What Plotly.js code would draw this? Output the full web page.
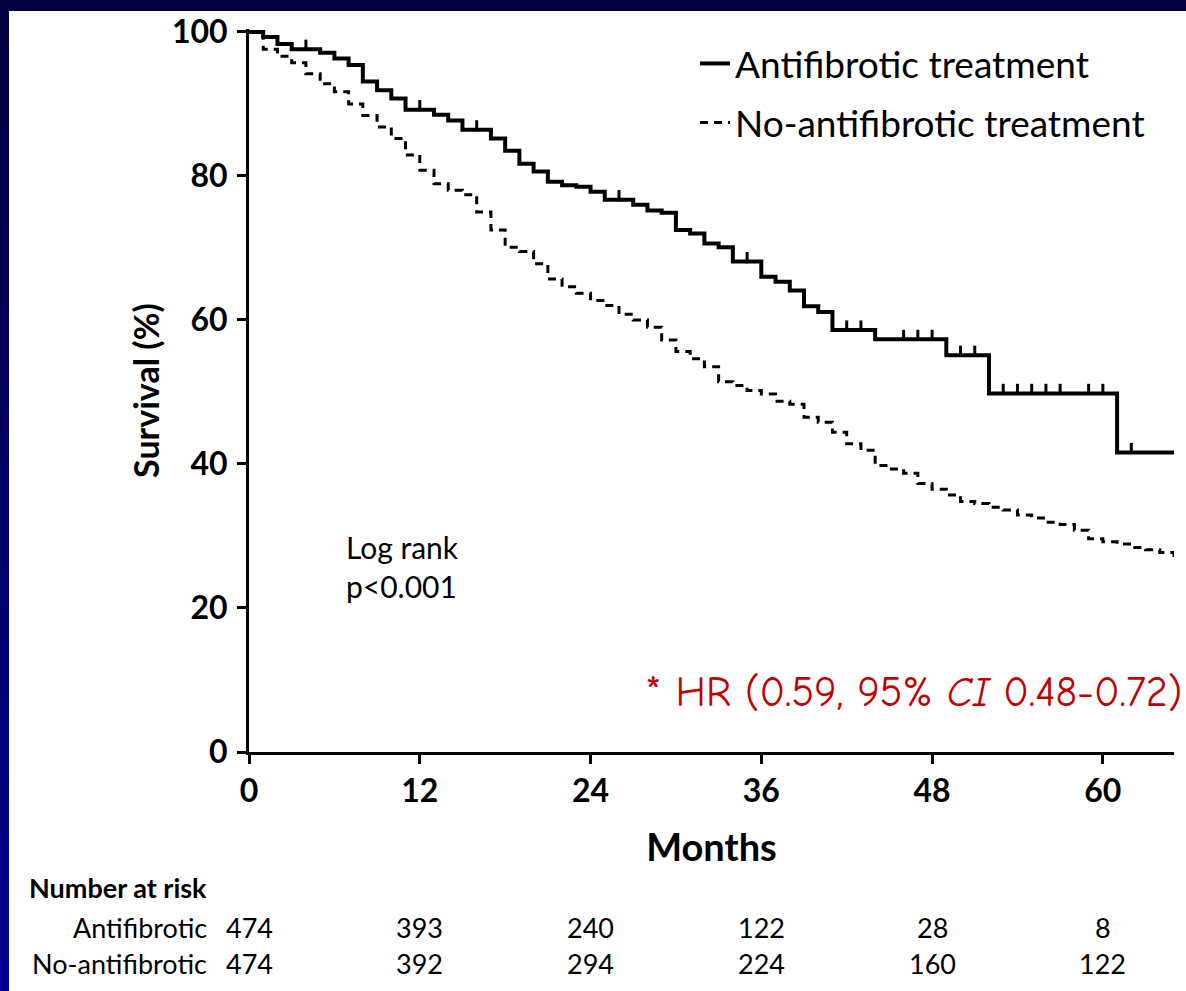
<!DOCTYPE html>
<html><head><meta charset="utf-8">
<script src="https://cdn.plot.ly/plotly-3.0.1.min.js"></script>
<style>
html,body{margin:0;padding:0;width:1186px;height:991px;overflow:hidden;background:linear-gradient(#020040,#00008c);}
#chart{position:absolute;left:9px;top:11px;width:1177px;height:980px;background:#fff;}
</style></head><body><div id="chart"></div>
<script>
// Antifibrotic treatment (Kaplan-Meier steps)
const antiMonths = [0,1,2,3,5,6,7,8,9,10,11,13,14,15,17,18,19,20,21,22,23,24,25,27,28,29,30,31,32,33,34,36,37,38,39,40,41,44,49,52,61,65];
const antiSurv = [100,99.3,98.3,97.6,97.1,96.3,95.4,93.1,91.9,90.75,89.2,88.5,87.7,86.4,85.2,83.5,81.7,80.6,79.2,78.7,78.5,77.8,76.7,76.0,75.2,74.9,72.5,72.0,70.6,70.1,68.1,66.0,65.3,64.1,61.9,61.1,58.6,57.3,55.1,49.8,41.6,41.6];
const antiCensorMonths = [4,12,16,26,35,42,43,46,47,48,50,51,53,54,55,56,57,59,60,62];

// No-antifibrotic treatment
const noMonths = [0,1,2,3,4,5,6,7,8,9,10,11,12,13,14,15,16,17,18,19,20,21,22,23,24,25,26,27,28,29,30,31,32,33,34,35,36,37,38,39,40,41,42,43,44,45,46,47,48,49,50,51,52,53,54,55,56,57,58,59,60,61,62,63,64,65];
const noSurv = [100,97.6,96.6,95.7,94.2,92.8,91.7,90.0,88.4,86.8,
85.2,82.9,80.8,78.9,78.0,77.4,75.0,72.5,70.1,69.5,
67.8,65.7,64.6,63.7,62.7,62.0,60.8,60.0,59.0,57.2,
55.6,54.6,53.5,51.4,50.9,50.2,49.7,48.7,48.3,46.5,
45.8,44.4,42.8,41.9,39.8,39.3,38.7,37.3,36.5,35.7,
34.8,34.5,34.0,33.6,32.9,32.5,31.9,31.6,30.8,29.6,
29.2,28.9,28.4,28.1,27.7,26.5];

// Number at risk table
const riskMonths = [0,12,24,36,48,60];
const riskAnti = [474,393,240,122,28,8];
const riskNo = [474,392,294,224,160,122];

const xTicks = [0,12,24,36,48,60];
const yTicks = [0,20,40,60,80,100];

function stepValue(months, surv, t){
  let v = surv[0];
  for (let i=0;i<months.length;i++){ if (months[i] <= t) v = surv[i]; }
  return v;
}
const CENSOR_LIFT = 0.55; // lift so censor ticks stand on top of the line
const antiCensorSurv = antiCensorMonths.map(t => stepValue(antiMonths, antiSurv, t) + CENSOR_LIFT);

const FONT = 'Lato, "Open Sans", sans-serif';

const traces = [
  {x: antiMonths, y: antiSurv, type:'scatter', mode:'lines', line:{shape:'hv', color:'#000', width:4},
   name:'Antifibrotic treatment', legendgroup:'a'},
  {x: antiCensorMonths, y: antiCensorSurv, type:'scatter', mode:'markers',
   marker:{symbol:'line-ns', size:8, line:{width:3, color:'#000'}, color:'#000'},
   showlegend:false, legendgroup:'a', hoverinfo:'skip'},
  {x: noMonths, y: noSurv, type:'scatter', mode:'lines', line:{shape:'hv', color:'#000', width:3, dash:'8px,6px'},
   name:'No-antifibrotic treatment', legendgroup:'b'}
];

const ann = [];
ann.push({xref:'x', yref:'y', x:6.7, y:25.8, xanchor:'left', yanchor:'middle', align:'left', showarrow:false,
  text:'Log rank<br>p&lt;0.001', font:{family:FONT, size:30, color:'#000'}});
ann.push({xref:'paper', yref:'y', x:1, xshift:10, y:8.2, xanchor:'right', yanchor:'middle', showarrow:false,
  text:'* HR (0.59, 95% <i>CI</i> 0.48-0.72)', font:{family:'"Comic Sans MS", "Comic Neue", Lato, sans-serif', size:42, color:'#c00000'}});
ann.push({xref:'paper', yref:'paper', x:-0.0432, y:-0.1881, xanchor:'right', yanchor:'middle', showarrow:false,
  text:'<b>Number at risk</b>', font:{family:FONT, size:27, color:'#000'}});
ann.push({xref:'paper', yref:'paper', x:-0.0432, y:-0.2434, xanchor:'right', yanchor:'middle', showarrow:false,
  text:'Antifibrotic', font:{family:FONT, size:27, color:'#000'}});
ann.push({xref:'paper', yref:'paper', x:-0.0432, y:-0.2932, xanchor:'right', yanchor:'middle', showarrow:false,
  text:'No-antifibrotic', font:{family:FONT, size:27, color:'#000'}});
riskMonths.forEach((m,i)=>{
  ann.push({xref:'x', yref:'paper', x:m, y:-0.2434, xanchor:'center', yanchor:'middle', showarrow:false,
    text:String(riskAnti[i]), font:{family:FONT, size:27, color:'#000'}});
  ann.push({xref:'x', yref:'paper', x:m, y:-0.2932, xanchor:'center', yanchor:'middle', showarrow:false,
    text:String(riskNo[i]), font:{family:FONT, size:27, color:'#000'}});
});

const layout = {
  width:1177, height:980,
  margin:{l:240, r:12, t:18, b:239},
  paper_bgcolor:'#fff', plot_bgcolor:'#fff',
  font:{family:FONT, color:'#000'},
  xaxis:{range:[0,65], tickvals:xTicks, ticktext:xTicks.map(String), showline:true, linewidth:3, linecolor:'#000',
    ticks:'outside', ticklen:9, tickwidth:3, tickcolor:'#000', showgrid:false, zeroline:false,
    tickfont:{family:FONT, size:32, color:'#000', weight:'bold'}, ticklabelstandoff:0,
    title:{text:'Months', font:{family:FONT, size:38, color:'#000', weight:'bold'}, standoff:26}},
  yaxis:{range:[0,100.4], tickvals:yTicks, ticktext:yTicks.map(String), showline:true, linewidth:3, linecolor:'#000',
    ticks:'outside', ticklen:9, tickwidth:3, tickcolor:'#000', showgrid:false, zeroline:false,
    tickfont:{family:FONT, size:32, color:'#000', weight:'bold'}, ticklabelstandoff:3,
    title:{text:'Survival (%)', font:{family:FONT, size:34, color:'#000', weight:'bold'}, standoff:3}},
  legend:{x:0.4822, y:0.9946, xanchor:'left', yanchor:'top', bgcolor:'rgba(0,0,0,0)', itemwidth:30,
    font:{family:FONT, size:37, color:'#000'}, tracegroupgap:8},
  showlegend:true,
  annotations: ann
};

Plotly.newPlot('chart', traces, layout, {displayModeBar:false, staticPlot:true});
</script></body></html>
